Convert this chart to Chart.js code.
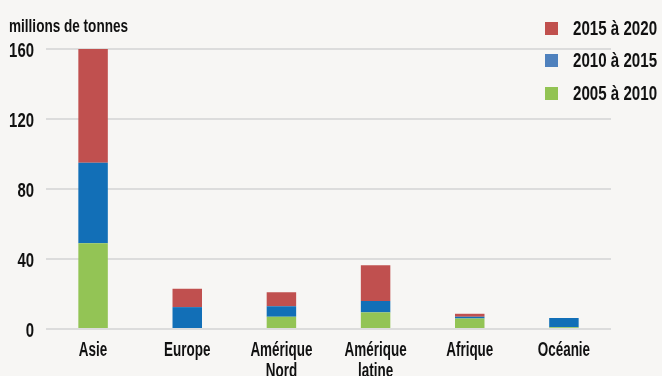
<!DOCTYPE html>
<html><head><meta charset="utf-8">
<script src="https://cdn.jsdelivr.net/npm/chart.js@4.4.1/dist/chart.umd.min.js"></script>
<style>
html,body{margin:0;padding:0;background:#f7f6f4;}
#wrap{position:relative;width:662px;height:376px;overflow:hidden;background:#f7f6f4;}
canvas{position:absolute;left:0;top:0;}
.t{position:absolute;font-family:'Liberation Sans',Arial,sans-serif;font-weight:bold;color:#111;white-space:nowrap;transform-origin:0 0;}
#ytitle{left:9px;top:18px;font-size:17.5px;line-height:17.5px;transform:scaleX(0.775);}
.lgt{left:573px;font-size:21px;line-height:21px;transform:scaleX(0.72);}
.sq{position:absolute;left:545px;width:13px;height:13px;}
</style></head>
<body><div id="wrap"><canvas id="c" width="662" height="376"></canvas>
<div class="t" id="ytitle">millions de tonnes</div>
<div class="sq" style="top:22px;background:#c0504d"></div><div class="t lgt" style="top:17px">2015 à 2020</div>
<div class="sq" style="top:54px;background:#4f81bd"></div><div class="t lgt" style="top:49px">2010 à 2015</div>
<div class="sq" style="top:87px;background:#92c353"></div><div class="t lgt" style="top:82px">2005 à 2010</div>
</div>
<script>
const categories = [["Asie"],["Europe"],["Amérique","Nord"],["Amérique","latine"],["Afrique"],["Océanie"]];
const s2005_2010 = [49, 0, 7, 9.5, 6, 1];
const s2010_2015 = [46, 12.5, 6, 6.5, 1, 5.3];
const s2015_2020 = [65, 10.5, 8, 20.5, 1.7, 0];
const seriesNames = ["2005 à 2010","2010 à 2015","2015 à 2020"];
const yTicks = [0, 40, 80, 120, 160];

const FONT = "'Liberation Sans', Arial, sans-serif";
const condensedTicks = {
  id: 'condensedTicks',
  afterDraw(chart) {
    const ctx = chart.ctx;
    const xs = chart.scales.x, ys = chart.scales.y;
    ctx.save();
    ctx.fillStyle = '#111';
    ctx.textBaseline = 'alphabetic';
    // x labels
    ctx.font = 'bold 19.5px ' + FONT;
    ctx.textAlign = 'center';
    chart.data.labels.forEach((lab, i) => {
      const x = xs.getPixelForTick(i);
      const lines = Array.isArray(lab) ? lab : [lab];
      lines.forEach((ln, k) => {
        ctx.save();
        ctx.translate(x, chart.chartArea.bottom + 27 + k * 21);
        ctx.scale(0.69, 1);
        ctx.fillText(ln, 0, 0);
        ctx.restore();
      });
    });
    // y labels
    ctx.font = 'bold 21px ' + FONT;
    ctx.textAlign = 'right';
    ys.ticks.forEach(t => {
      const y = ys.getPixelForValue(t.value);
      ctx.save();
      ctx.translate(34, y + 7.5);
      ctx.scale(0.71, 1);
      ctx.fillText(String(t.value), 0, 0);
      ctx.restore();
    });
    ctx.restore();
  }
};

new Chart(document.getElementById('c'), {
  type: 'bar',
  data: {
    labels: categories,
    datasets: [
      {label: seriesNames[0], data: s2005_2010, backgroundColor: '#93c455'},
      {label: seriesNames[1], data: s2010_2015, backgroundColor: '#126fb7'},
      {label: seriesNames[2], data: s2015_2020, backgroundColor: '#c0504f'}
    ]
  },
  plugins: [condensedTicks],
  options: {
    responsive: false,
    animation: false,
    devicePixelRatio: 1,
    layout: {padding: {left: 0, right: 51, top: 49, bottom: 0}},
    datasets: {bar: {categoryPercentage: 1, barPercentage: 0.313}},
    plugins: {legend: {display: false}, tooltip: {enabled: false}},
    scales: {
      x: {
        stacked: true,
        grid: {display: false, drawTicks: false},
        border: {display: false},
        ticks: {display: false, autoSkip: false},
        afterFit: s => { s.height = 47; }
      },
      y: {
        stacked: true,
        min: 0, max: 160,
        afterBuildTicks: s => { s.ticks = yTicks.map(v => ({value: v})); },
        grid: {color: '#dcdcdc', lineWidth: 2, drawTicks: false},
        border: {display: false},
        ticks: {display: false},
        afterFit: s => { s.width = 46; }
      }
    }
  }
});
</script></body></html>
